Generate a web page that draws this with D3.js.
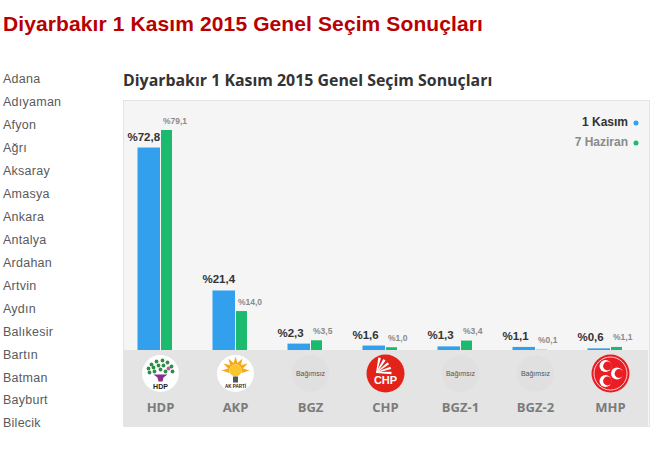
<!DOCTYPE html>
<html>
<head>
<meta charset="utf-8">
<script src="https://cdn.jsdelivr.net/npm/d3@7"></script>
<style>
html, body { margin: 0; padding: 0; background: #fff; overflow: hidden; }
svg { display: block; }
</style>
</head>
<body>
<div id="chart"></div>
<script>
var pageTitle = 'Diyarbakır 1 Kasım 2015 Genel Seçim Sonuçları';
var cities = ['Adana', 'Adıyaman', 'Afyon', 'Ağrı', 'Aksaray', 'Amasya', 'Ankara', 'Antalya', 'Ardahan', 'Artvin', 'Aydın', 'Balıkesir', 'Bartın', 'Batman', 'Bayburt', 'Bilecik'];
var parties = ['HDP', 'AKP', 'BGZ', 'CHP', 'BGZ-1', 'BGZ-2', 'MHP'];
var kasim = [72.8, 21.4, 2.3, 1.6, 1.3, 1.1, 0.6];
var haziran = [79.1, 14.0, 3.5, 1.0, 3.4, 0.1, 1.1];
var seriesNames = ['1 Kasım', '7 Haziran'];

var w = 670, h = 462
	, blue = '#33a0ee'
	, green = '#1cba6e'
	, sans = '"Liberation Sans", Arial, sans-serif'
	, open = '"Open Sans", sans-serif'
	;

var svg = d3.select('#chart').append('svg').attr('width', w).attr('height', h);

function fmt(v){
	return '%' + v.toFixed(1).replace('.', ',');
}

// headings
svg.append('text').attr('x', 3).attr('y', 31).attr('font-family', sans).attr('font-weight', 'bold')
	.attr('font-size', 21).attr('letter-spacing', 0.11).attr('fill', '#b80000').text(pageTitle);
svg.append('text').attr('x', 123).attr('y', 86).attr('font-family', open).attr('font-weight', 'bold')
	.attr('font-size', 15.9).attr('fill', '#333').text(pageTitle);

// city list
var cityY = d3.scalePoint().domain(cities).range([79, 423]);
svg.selectAll('.city').data(cities).enter().append('text').attr('class', 'city')
	.attr('x', 3).attr('y', function(d){ return cityY(d); }).attr('dy', '.35em')
	.attr('font-family', sans).attr('font-size', 12.5).attr('letter-spacing', 0.25).attr('fill', '#5a5a5a').text(function(d){ return d; });

// panel
svg.append('rect').attr('x', 123.5).attr('y', 100.5).attr('width', 526).attr('height', 326)
	.attr('fill', '#f5f5f5').attr('stroke', '#e4e4e4');
svg.append('rect').attr('x', 123).attr('y', 350).attr('width', 525).attr('height', 77).attr('fill', '#e4e4e4');

var x = d3.scaleBand().domain(parties).range([123, 648]);
var y = d3.scaleLinear().domain([0, 80]).range([350, 127.5]);

// bars
function barHeight(v){ return 350 - y(v); }
var group = svg.selectAll('.party').data(parties).enter().append('g').attr('class', 'party')
	.attr('transform', function(d){ return 'translate(' + (x(d) + x.bandwidth() / 2) + ',0)'; });

group.append('rect').attr('x', -23).attr('width', 22.5)
	.attr('y', function(d, i){ return y(kasim[i]); })
	.attr('height', function(d, i){ return barHeight(kasim[i]); }).attr('fill', blue);
group.append('rect').attr('x', 0.5).attr('width', 11)
	.attr('y', function(d, i){ return y(haziran[i]); })
	.attr('height', function(d, i){ return barHeight(haziran[i]); }).attr('fill', green);

group.append('text').attr('x', -33).attr('y', function(d, i){ return y(kasim[i]) - 7; })
	.attr('font-family', sans).attr('font-weight', 'bold').attr('font-size', 11.5).attr('fill', '#333')
	.text(function(d, i){ return fmt(kasim[i]); });
group.append('text').attr('x', 2.5).attr('y', function(d, i){ return y(haziran[i]) - 6.5; })
	.attr('font-family', sans).attr('font-weight', 'bold').attr('font-size', 8.5).attr('fill', '#8a8a8a')
	.text(function(d, i){ return fmt(haziran[i]); });

// party names
var axis = d3.axisBottom(x).tickSize(0).tickPadding(0);
var axisG = svg.append('g').attr('transform', 'translate(0,403)').call(axis);
axisG.select('.domain').remove();
axisG.selectAll('text').attr('font-family', open).attr('font-weight', 'bold').attr('font-size', 13).attr('fill', '#7b7b7b');

// logos
var logos = group.append('g').attr('transform', 'translate(0,373.5)');

function logoHdp(g){
	g.append('circle').attr('r', 18.5).attr('fill', '#fff');
	var leaves = [[-9, -9], [-4, -12], [2, -13], [7, -11], [11, -7], [-12, -5], [-7, -6], [-2, -8], [3, -8], [8, -5], [-11, -1], [-6, -2], [5, -2], [12, -2], [0, -4]];
	g.selectAll('.leaf').data(leaves).enter().append('circle').attr('class', 'leaf')
		.attr('cx', function(d){ return d[0]; }).attr('cy', function(d){ return d[1]; }).attr('r', 1.9)
		.attr('fill', function(d, i){ return i == 9 ? '#c65aa0' : '#2f8f46'; });
	g.append('path').attr('d', 'M-7,1L7,1L3,4L2,8L-2,8L-3,4Z').attr('fill', '#8a2d8f');
	g.append('text').attr('text-anchor', 'middle').attr('y', 15).attr('font-family', sans).attr('font-weight', 'bold')
		.attr('font-size', 7).attr('fill', '#222').text('HDP');
}

function logoAkp(g){
	g.append('circle').attr('r', 18.5).attr('fill', '#fff');
	d3.range(0, 7).forEach(function(i){
		g.append('path').attr('d', 'M-2.4,-6L0,-14L2.4,-6Z').attr('fill', '#f6a81c')
			.attr('transform', 'translate(0,-3) rotate(' + (-90 + i * 30) + ')');
	});
	g.append('circle').attr('cy', -3).attr('r', 6).attr('fill', '#f8c62e');
	g.append('rect').attr('x', -2.5).attr('y', 3).attr('width', 5).attr('height', 6).attr('fill', '#555');
	g.append('text').attr('text-anchor', 'middle').attr('y', 14.5).attr('font-family', sans).attr('font-weight', 'bold')
		.attr('font-size', 4.5).attr('fill', '#222').text('AK PARTİ');
}

function logoIndependent(g){
	g.append('circle').attr('r', 18.5).attr('fill', '#e0e0e0');
	g.append('text').attr('text-anchor', 'middle').attr('y', 2.5).attr('font-family', sans)
		.attr('font-size', 7).attr('fill', '#555').text('Bağımsız');
}

function logoChp(g){
	g.append('circle').attr('r', 19).attr('fill', '#e2231a');
	[-78, -58, -38, -18, 2].forEach(function(a){
		g.append('path').attr('d', 'M0,-0.4L15,-1.3L15,1.3L0,0.4Z').attr('fill', '#fff')
			.attr('transform', 'translate(-9,-1) rotate(' + a + ')');
	});
	g.append('text').attr('text-anchor', 'middle').attr('y', 10.5).attr('font-family', sans).attr('font-weight', 'bold')
		.attr('font-size', 11).attr('fill', '#fff').text('CHP');
}

function logoMhp(g){
	g.append('circle').attr('r', 19).attr('fill', '#ea1c24');
	g.append('circle').attr('r', 16.5).attr('fill', 'none').attr('stroke', '#fbd0d0').attr('stroke-width', 1);
	[[-5, -7.5], [6.5, 0], [-5, 7.5]].forEach(function(c){
		g.append('circle').attr('cx', c[0]).attr('cy', c[1]).attr('r', 6).attr('fill', '#fff');
		g.append('circle').attr('cx', c[0] + 2).attr('cy', c[1]).attr('r', 4.4).attr('fill', '#ea1c24');
	});
}

var logoFns = [logoHdp, logoAkp, logoIndependent, logoChp, logoIndependent, logoIndependent, logoMhp];
logos.each(function(d, i){ logoFns[i](d3.select(this)); });

// legend
var legendColors = [blue, green], legendText = ['#333', '#8a8a8a'];
var legendY = d3.scalePoint().domain(seriesNames).range([122, 142]);
var legend = svg.selectAll('.legend').data(seriesNames).enter().append('g').attr('class', 'legend')
	.attr('transform', function(d){ return 'translate(0,' + legendY(d) + ')'; });
legend.append('text').attr('x', 628).attr('dy', '.35em').attr('text-anchor', 'end')
	.attr('font-family', sans).attr('font-weight', 'bold').attr('font-size', 12)
	.attr('fill', function(d, i){ return legendText[i]; }).text(function(d){ return d; });
legend.append('circle').attr('cx', 636).attr('cy', 1).attr('r', 2.5)
	.attr('fill', function(d, i){ return legendColors[i]; });
</script>
</body>
</html>
